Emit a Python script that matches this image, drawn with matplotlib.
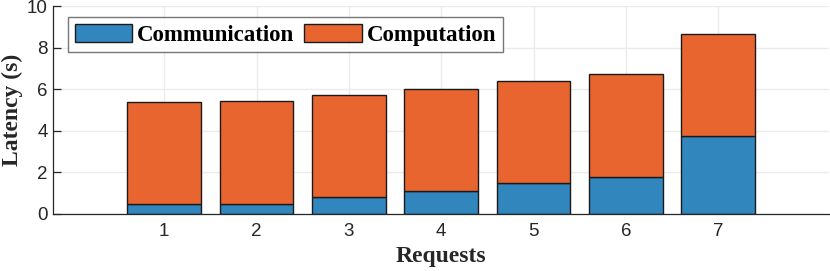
import matplotlib
matplotlib.use("Agg")
import matplotlib.pyplot as plt
import numpy as np

requests = [1, 2, 3, 4, 5, 6, 7]
communication = [0.47, 0.49, 0.79, 1.08, 1.48, 1.78, 3.75]
total = [5.40, 5.42, 5.72, 6.03, 6.41, 6.72, 8.68]
computation = [t - c for t, c in zip(total, communication)]
series_names = ["Communication", "Computation"]
yticks = [0, 2, 4, 6, 8, 10]

blue = "#3186be"
orange = "#e96530"
axcol = "#262626"

fig = plt.figure(figsize=(8.3, 2.71), dpi=100)
ax = fig.add_axes([0.0643, 0.2114, 0.9345, 0.7654])

ax.bar(requests, communication, width=0.8, color=blue, edgecolor="#1a1a1a",
       linewidth=1.0, label=series_names[0], zorder=3)
ax.bar(requests, computation, width=0.8, bottom=communication, color=orange,
       edgecolor="#1a1a1a", linewidth=1.0, label=series_names[1], zorder=3)

ax.set_xlim(-0.2, 8.2)
ax.set_ylim(0, 10)
ax.set_xticks(requests)
ax.set_yticks(yticks)
ax.grid(True, color="#ebebeb", linewidth=1.0, zorder=0)
ax.set_axisbelow(True)
for s in ["top", "right"]:
    ax.spines[s].set_visible(False)
for s in ["left", "bottom"]:
    ax.spines[s].set_color(axcol)
    ax.spines[s].set_linewidth(0.9)
    ax.spines[s].set_zorder(4)
ax.tick_params(direction="in", length=6, width=0.9, color=axcol,
               labelcolor=axcol, labelsize=13.5)
for lab in ax.get_xticklabels() + ax.get_yticklabels():
    lab.set_family("Liberation Sans")
ax.tick_params(axis="x", pad=7)
ax.tick_params(axis="y", pad=4)

ax.set_xlabel("Requests", family="Liberation Serif", fontweight="bold",
              fontsize=17, color=axcol, labelpad=4)
ax.set_ylabel("Latency (s)", family="Liberation Serif", fontweight="bold",
              fontsize=17, color=axcol, labelpad=3)

leg = ax.legend(ncol=2, loc="upper left", bbox_to_anchor=(0.019, 0.947),
                prop={"family": "Liberation Serif", "weight": "bold", "size": 16.5},
                frameon=True, fancybox=False, handlelength=2.5, handleheight=0.87,
                columnspacing=0.45, handletextpad=0.22, borderpad=0.28,
                borderaxespad=0)
leg.get_frame().set_edgecolor("#555555")
leg.get_frame().set_linewidth(1.0)
leg.set_zorder(6)

fig.savefig("out.png", dpi=100)
